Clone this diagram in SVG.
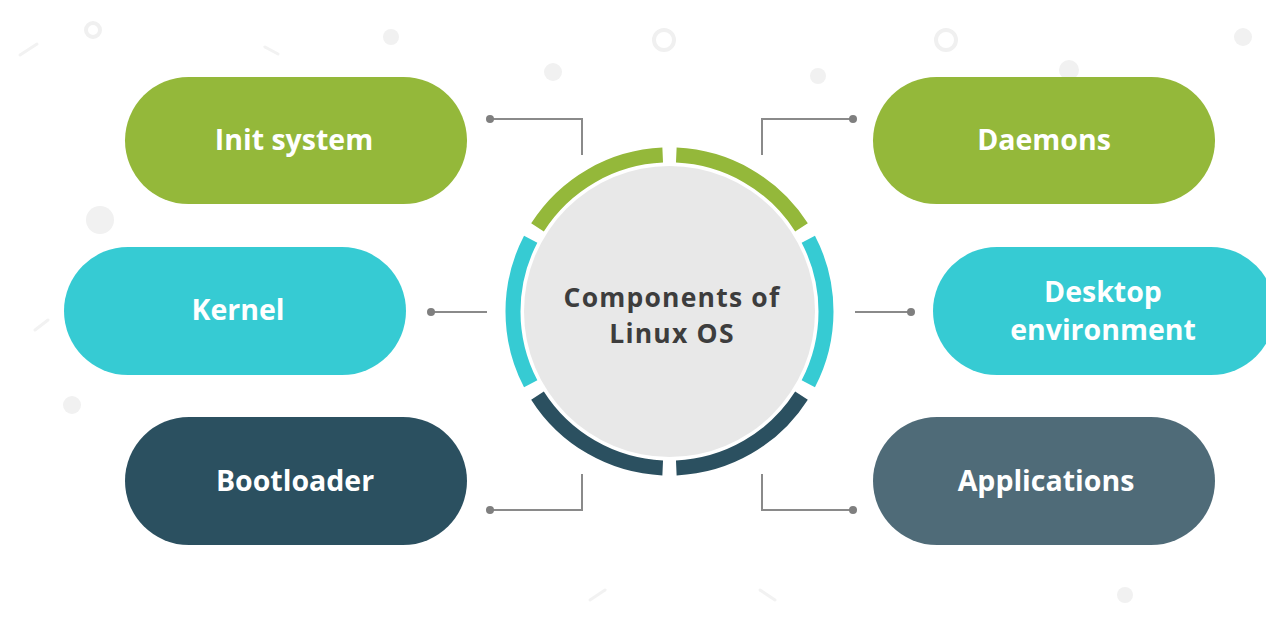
<svg xmlns="http://www.w3.org/2000/svg" width="1266" height="624" viewBox="0 0 1266 624">
<style>
.pill-text{font-family:"Open Sans","Liberation Sans",sans-serif;font-weight:700;font-size:28.5px;fill:#ffffff;text-anchor:middle}
.center-text{font-family:"Open Sans","Liberation Sans",sans-serif;font-weight:700;font-size:26.5px;letter-spacing:1.2px;fill:#3d3d3d;text-anchor:middle}
.conn{fill:none;stroke:#8a8a8a;stroke-width:2}
.dot{fill:#7f7f7f}
.seg{fill:none;stroke-width:15}
.bg-dot{fill:#f1f1f1}
.bg-ring{fill:none;stroke:#f0f0f0;stroke-width:4}
.bg-line{stroke:#f2f2f2;stroke-width:3;stroke-linecap:round}
</style>
<rect width="1266" height="624" fill="#ffffff"/>
<g id="background">
<circle class="bg-dot" cx="391" cy="37" r="8"/>
<circle class="bg-dot" cx="553" cy="72" r="9"/>
<circle class="bg-dot" cx="1243" cy="37" r="9"/>
<circle class="bg-dot" cx="1069" cy="70" r="10"/>
<circle class="bg-dot" cx="100" cy="220" r="14"/>
<circle class="bg-dot" cx="72" cy="405" r="9"/>
<circle class="bg-dot" cx="1125" cy="595" r="8"/>
<circle class="bg-dot" cx="818" cy="76" r="8"/>
<circle class="bg-ring" cx="93" cy="30" r="7"/>
<circle class="bg-ring" cx="664" cy="40" r="10"/>
<circle class="bg-ring" cx="946" cy="40" r="10"/>
<line class="bg-line" x1="20" y1="55" x2="37" y2="44"/>
<line class="bg-line" x1="265" y1="47" x2="278" y2="54"/>
<line class="bg-line" x1="35" y1="330" x2="48" y2="320"/>
<line class="bg-line" x1="1140" y1="275" x2="1155" y2="265"/>
<line class="bg-line" x1="590" y1="600" x2="605" y2="590"/>
<line class="bg-line" x1="760" y1="590" x2="775" y2="600"/>
</g>
<g id="connectors">
<path class="conn" d="M490 119 H582 V155"/>
<circle class="dot" cx="490" cy="119" r="4"/>
<path class="conn" d="M853 119 H762 V155"/>
<circle class="dot" cx="853" cy="119" r="4"/>
<path class="conn" d="M431 312 H487"/>
<circle class="dot" cx="431" cy="312" r="4"/>
<path class="conn" d="M855 312 H911"/>
<circle class="dot" cx="911" cy="312" r="4"/>
<path class="conn" d="M490 510 H582 V474"/>
<circle class="dot" cx="490" cy="510" r="4"/>
<path class="conn" d="M853 510 H762 V474"/>
<circle class="dot" cx="853" cy="510" r="4"/>
</g>
<g id="center">
<circle cx="669.5" cy="311.5" r="148" fill="#ffffff"/>
<circle cx="669.5" cy="311.5" r="145.5" fill="#e8e8e8"/>
<path class="seg" stroke="#94b83a" d="M537.5 227.4 A156.5 156.5 0 0 1 662.7 155.1"/>
<path class="seg" stroke="#94b83a" d="M676.3 155.1 A156.5 156.5 0 0 1 801.5 227.4"/>
<path class="seg" stroke="#36cbd3" d="M530.7 383.8 A156.5 156.5 0 0 1 530.7 239.2"/>
<path class="seg" stroke="#36cbd3" d="M808.3 239.2 A156.5 156.5 0 0 1 808.3 383.8"/>
<path class="seg" stroke="#2b5060" d="M662.7 467.9 A156.5 156.5 0 0 1 537.5 395.6"/>
<path class="seg" stroke="#2b5060" d="M801.5 395.6 A156.5 156.5 0 0 1 676.3 467.9"/>
<text class="center-text" x="672" y="307">Components of</text>
<text class="center-text" x="672" y="343">Linux OS</text>
</g>
<g id="init-system">
<rect x="125" y="77" width="342" height="127" rx="63.5" fill="#94b83a"/>
<text class="pill-text" x="294" y="150">Init system</text>
</g>
<g id="kernel">
<rect x="64" y="247" width="342" height="128" rx="64" fill="#36cbd3"/>
<text class="pill-text" x="238" y="320">Kernel</text>
</g>
<g id="bootloader">
<rect x="125" y="417" width="342" height="128" rx="64" fill="#2b5060"/>
<text class="pill-text" x="295" y="491">Bootloader</text>
</g>
<g id="daemons">
<rect x="873" y="77" width="342" height="127" rx="63.5" fill="#94b83a"/>
<text class="pill-text" x="1044" y="150">Daemons</text>
</g>
<g id="desktop-environment">
<rect x="933" y="247" width="342" height="128" rx="64" fill="#36cbd3"/>
<text class="pill-text" x="1103" y="302">Desktop</text>
<text class="pill-text" x="1103" y="340">environment</text>
</g>
<g id="applications">
<rect x="873" y="417" width="342" height="128" rx="64" fill="#4f6b78"/>
<text class="pill-text" x="1046" y="491">Applications</text>
</g>
</svg>
